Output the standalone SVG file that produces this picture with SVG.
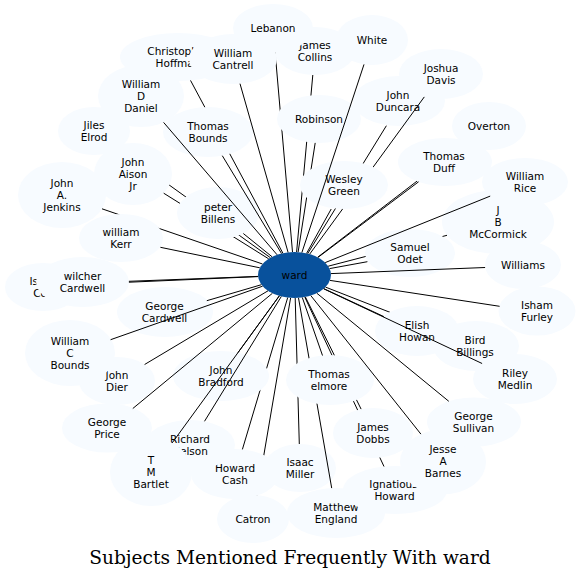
<svg xmlns="http://www.w3.org/2000/svg" width="581" height="580" viewBox="0 0 581 580">
<style>
.n ellipse{fill:#f7fbff}
#ward ellipse{fill:#08519c}
.n text{font-family:"DejaVu Sans","Liberation Sans",sans-serif;font-size:10.5px;text-anchor:middle;fill:#000}
.e line{stroke:#000;stroke-width:1}
.t{font-family:"DejaVu Serif","Liberation Serif",serif;font-size:18.6px;text-anchor:middle;fill:#000}
</style>
<defs>
<mask id="mLEB" maskUnits="userSpaceOnUse" x="0" y="0" width="581" height="580"><rect width="581" height="580" fill="#fff"/><ellipse cx="233" cy="59" rx="44" ry="25"/><ellipse cx="315" cy="51" rx="40" ry="24"/><ellipse cx="319" cy="119" rx="42" ry="24"/></mask>
<mask id="mTBO" maskUnits="userSpaceOnUse" x="0" y="0" width="581" height="580"><rect width="581" height="580" fill="#fff"/><ellipse cx="208" cy="132" rx="45" ry="25"/></mask>
<mask id="mCOL" maskUnits="userSpaceOnUse" x="0" y="0" width="581" height="580"><rect width="581" height="580" fill="#fff"/><ellipse cx="319" cy="119" rx="42" ry="24"/><ellipse cx="344" cy="185" rx="44" ry="24"/></mask>
<mask id="mJIL" maskUnits="userSpaceOnUse" x="0" y="0" width="581" height="580"><rect width="581" height="580" fill="#fff"/><ellipse cx="133" cy="174" rx="39" ry="31"/><ellipse cx="218" cy="213" rx="41" ry="26"/></mask>
<mask id="mWES" maskUnits="userSpaceOnUse" x="0" y="0" width="581" height="580"><rect width="581" height="580" fill="#fff"/><ellipse cx="344" cy="185" rx="44" ry="24"/></mask>
<mask id="mDUF" maskUnits="userSpaceOnUse" x="0" y="0" width="581" height="580"><rect width="581" height="580" fill="#fff"/><ellipse cx="445" cy="162" rx="47" ry="24"/></mask>
<mask id="mBIL" maskUnits="userSpaceOnUse" x="0" y="0" width="581" height="580"><rect width="581" height="580" fill="#fff"/><ellipse cx="218" cy="213" rx="41" ry="26"/></mask>
<mask id="mKER" maskUnits="userSpaceOnUse" x="0" y="0" width="581" height="580"><rect width="581" height="580" fill="#fff"/><ellipse cx="121" cy="238" rx="42" ry="24"/></mask>
<mask id="mODE" maskUnits="userSpaceOnUse" x="0" y="0" width="581" height="580"><rect width="581" height="580" fill="#fff"/><ellipse cx="410" cy="253" rx="45" ry="24"/></mask>
<mask id="mWIL" maskUnits="userSpaceOnUse" x="0" y="0" width="581" height="580"><rect width="581" height="580" fill="#fff"/><ellipse cx="82.5" cy="282" rx="46.5" ry="25"/></mask>
<mask id="mELI" maskUnits="userSpaceOnUse" x="0" y="0" width="581" height="580"><rect width="581" height="580" fill="#fff"/><ellipse cx="417" cy="331" rx="42" ry="25"/></mask>
<mask id="mBRA" maskUnits="userSpaceOnUse" x="0" y="0" width="581" height="580"><rect width="581" height="580" fill="#fff"/><ellipse cx="221" cy="376" rx="48" ry="25"/></mask>
<mask id="mCAS" maskUnits="userSpaceOnUse" x="0" y="0" width="581" height="580"><rect width="581" height="580" fill="#fff"/><ellipse cx="235" cy="474" rx="44" ry="25"/></mask>
<mask id="mELM" maskUnits="userSpaceOnUse" x="0" y="0" width="581" height="580"><rect width="581" height="580" fill="#fff"/><ellipse cx="330" cy="380" rx="44" ry="25"/></mask>
<mask id="mIGN" maskUnits="userSpaceOnUse" x="0" y="0" width="581" height="580"><rect width="581" height="580" fill="#fff"/><ellipse cx="330" cy="380" rx="44" ry="25"/><ellipse cx="373" cy="433" rx="40" ry="25"/></mask>
</defs>
<rect width="581" height="580" fill="#fff"/>
<g id="nodes">
<g class="n" id="n-isaac-c"><ellipse cx="43" cy="287" rx="38" ry="24"/><text><tspan x="43" y="284.9">Isaac</tspan><tspan x="43" y="296.6">Cox</tspan></text></g>
<g class="n" id="n-wilcher-cardwell"><ellipse cx="82.5" cy="282" rx="46.5" ry="25"/><text><tspan x="82.5" y="279.9">wilcher</tspan><tspan x="82.5" y="291.6">Cardwell</tspan></text></g>
<g class="n" id="n-john-a-jenkins"><ellipse cx="62" cy="195" rx="44" ry="33"/><text><tspan x="62" y="187.1">John</tspan><tspan x="62" y="198.8">A.</tspan><tspan x="62" y="210.5">Jenkins</tspan></text></g>
<g class="n" id="n-william-kerr"><ellipse cx="121" cy="238" rx="42" ry="24"/><text><tspan x="121" y="235.9">william</tspan><tspan x="121" y="247.6">Kerr</tspan></text></g>
<g class="n" id="n-john-aison-jr"><ellipse cx="133" cy="174" rx="39" ry="31"/><text><tspan x="133" y="166.1">John</tspan><tspan x="133" y="177.8">Aison</tspan><tspan x="133" y="189.5">Jr</tspan></text></g>
<g class="n" id="n-jiles-elrod"><ellipse cx="94" cy="131" rx="36" ry="24"/><text><tspan x="94" y="128.9">Jiles</tspan><tspan x="94" y="140.6">Elrod</tspan></text></g>
<g class="n" id="n-william-d-daniel"><ellipse cx="141" cy="96" rx="43" ry="31"/><text><tspan x="141" y="88.1">William</tspan><tspan x="141" y="99.8">D</tspan><tspan x="141" y="111.5">Daniel</tspan></text></g>
<g class="n" id="n-christopher-hoffman"><ellipse cx="178" cy="57" rx="58" ry="24"/><text><tspan x="178" y="54.9">Christopher</tspan><tspan x="178" y="66.6">Hoffman</tspan></text></g>
<g class="n" id="n-william-cantrell"><ellipse cx="233" cy="59" rx="44" ry="25"/><text><tspan x="233" y="56.9">William</tspan><tspan x="233" y="68.6">Cantrell</tspan></text></g>
<g class="n" id="n-james-collins"><ellipse cx="315" cy="51" rx="40" ry="24"/><text><tspan x="315" y="48.9">James</tspan><tspan x="315" y="60.6">Collins</tspan></text></g>
<g class="n" id="n-lebanon"><ellipse cx="273" cy="28" rx="40" ry="24"/><text x="273" y="31.8">Lebanon</text></g>
<g class="n" id="n-white"><ellipse cx="372" cy="40" rx="36" ry="25"/><text x="372" y="43.8">White</text></g>
<g class="n" id="n-robinson"><ellipse cx="319" cy="119" rx="42" ry="24"/><text x="319" y="122.8">Robinson</text></g>
<g class="n" id="n-thomas-bounds"><ellipse cx="208" cy="132" rx="45" ry="25"/><text><tspan x="208" y="129.9">Thomas</tspan><tspan x="208" y="141.6">Bounds</tspan></text></g>
<g class="n" id="n-peter-billens"><ellipse cx="218" cy="213" rx="41" ry="26"/><text><tspan x="218" y="210.9">peter</tspan><tspan x="218" y="222.6">Billens</tspan></text></g>
<g class="n" id="n-wesley-green"><ellipse cx="344" cy="185" rx="44" ry="24"/><text><tspan x="344" y="182.9">Wesley</tspan><tspan x="344" y="194.6">Green</tspan></text></g>
<g class="n" id="n-john-duncara"><ellipse cx="399" cy="101" rx="46" ry="25"/><text><tspan x="398" y="98.9">John</tspan><tspan x="398" y="110.6">Duncara</tspan></text></g>
<g class="n" id="n-joshua-davis"><ellipse cx="441" cy="74" rx="42" ry="25"/><text><tspan x="441" y="71.9">Joshua</tspan><tspan x="441" y="83.6">Davis</tspan></text></g>
<g class="n" id="n-overton"><ellipse cx="489" cy="126" rx="37" ry="24"/><text x="489" y="129.8">Overton</text></g>
<g class="n" id="n-thomas-duff"><ellipse cx="445" cy="162" rx="47" ry="24"/><text><tspan x="444" y="159.9">Thomas</tspan><tspan x="444" y="171.6">Duff</tspan></text></g>
<g class="n" id="n-william-rice"><ellipse cx="525" cy="182" rx="43" ry="24"/><text><tspan x="525" y="179.9">William</tspan><tspan x="525" y="191.6">Rice</tspan></text></g>
<g class="n" id="n-j-b-mccormick"><ellipse cx="498" cy="222" rx="56" ry="32"/><text><tspan x="498" y="214.1">J</tspan><tspan x="498" y="225.8">B</tspan><tspan x="498" y="237.5">McCormick</tspan></text></g>
<g class="n" id="n-samuel-odet"><ellipse cx="410" cy="253" rx="45" ry="24"/><text><tspan x="410" y="250.9">Samuel</tspan><tspan x="410" y="262.6">Odet</tspan></text></g>
<g class="n" id="n-williams"><ellipse cx="523" cy="265" rx="38" ry="24"/><text x="523" y="268.8">Williams</text></g>
<g class="n" id="n-isham-furley"><ellipse cx="537" cy="311" rx="38.5" ry="24.5"/><text><tspan x="537" y="308.9">Isham</tspan><tspan x="537" y="320.6">Furley</tspan></text></g>
<g class="n" id="n-elish-howan"><ellipse cx="417" cy="331" rx="42" ry="25"/><text><tspan x="417" y="328.9">Elish</tspan><tspan x="417" y="340.6">Howan</tspan></text></g>
<g class="n" id="n-bird-billings"><ellipse cx="476" cy="346" rx="43" ry="25"/><text><tspan x="475" y="343.9">Bird</tspan><tspan x="475" y="355.6">Billings</tspan></text></g>
<g class="n" id="n-riley-medlin"><ellipse cx="515" cy="379" rx="42" ry="25"/><text><tspan x="515" y="376.9">Riley</tspan><tspan x="515" y="388.6">Medlin</tspan></text></g>
<g class="n" id="n-george-cardwell"><ellipse cx="165" cy="312" rx="48" ry="25"/><text><tspan x="164.5" y="309.9">George</tspan><tspan x="164.5" y="321.6">Cardwell</tspan></text></g>
<g class="n" id="n-john-dier"><ellipse cx="117" cy="381" rx="38" ry="24"/><text><tspan x="117" y="378.9">John</tspan><tspan x="117" y="390.6">Dier</tspan></text></g>
<g class="n" id="n-william-c-bounds"><ellipse cx="70" cy="353" rx="45" ry="33"/><text><tspan x="70" y="345.1">William</tspan><tspan x="70" y="356.8">C</tspan><tspan x="70" y="368.5">Bounds</tspan></text></g>
<g class="n" id="n-george-price"><ellipse cx="107" cy="428" rx="45" ry="24.5"/><text><tspan x="107" y="425.9">George</tspan><tspan x="107" y="437.6">Price</tspan></text></g>
<g class="n" id="n-john-bradford"><ellipse cx="221" cy="376" rx="48" ry="25"/><text><tspan x="221" y="373.9">John</tspan><tspan x="221" y="385.6">Bradford</tspan></text></g>
<g class="n" id="n-howard-cash"><ellipse cx="235" cy="474" rx="44" ry="25"/><text><tspan x="235" y="471.9">Howard</tspan><tspan x="235" y="483.6">Cash</tspan></text></g>
<g class="n" id="n-richard-nelson"><ellipse cx="190" cy="445" rx="45" ry="25"/><text><tspan x="190" y="442.9">Richard</tspan><tspan x="190" y="454.6">Nelson</tspan></text></g>
<g class="n" id="n-t-m-bartlet"><ellipse cx="151" cy="472" rx="41" ry="34"/><text><tspan x="151" y="464.1">T</tspan><tspan x="151" y="475.8">M</tspan><tspan x="151" y="487.5">Bartlet</tspan></text></g>
<g class="n" id="n-isaac-miller"><ellipse cx="300" cy="468" rx="36" ry="24"/><text><tspan x="300" y="465.9">Isaac</tspan><tspan x="300" y="477.6">Miller</tspan></text></g>
<g class="n" id="n-catron"><ellipse cx="253" cy="519" rx="36" ry="24"/><text x="253" y="522.8">Catron</text></g>
<g class="n" id="n-matthew-england"><ellipse cx="336" cy="513" rx="49" ry="25"/><text><tspan x="336" y="510.9">Matthew</tspan><tspan x="336" y="522.6">England</tspan></text></g>
<g class="n" id="n-thomas-elmore"><ellipse cx="330" cy="380" rx="44" ry="25"/><text><tspan x="329" y="377.9">Thomas</tspan><tspan x="329" y="389.6">elmore</tspan></text></g>
<g class="n" id="n-james-dobbs"><ellipse cx="373" cy="433" rx="40" ry="25"/><text><tspan x="373" y="430.9">James</tspan><tspan x="373" y="442.6">Dobbs</tspan></text></g>
<g class="n" id="n-ignatious-howard"><ellipse cx="395" cy="490" rx="52" ry="24"/><text><tspan x="393.5" y="487.9">Ignatious</tspan><tspan x="394.5" y="499.6">Howard</tspan></text></g>
<g class="n" id="n-jesse-a-barnes"><ellipse cx="443" cy="462" rx="43" ry="32.5"/><text><tspan x="443" y="453.1">Jesse</tspan><tspan x="443" y="464.8">A</tspan><tspan x="443" y="476.5">Barnes</tspan></text></g>
<g class="n" id="n-george-sullivan"><ellipse cx="474" cy="422" rx="47" ry="24.5"/><text><tspan x="473.5" y="419.9">George</tspan><tspan x="473.5" y="431.6">Sullivan</tspan></text></g>
<g class="n" id="ward"><ellipse cx="294.5" cy="275" rx="36.5" ry="23"/><text x="294.5" y="278.8">ward</text></g>
</g>
<g class="e" id="connectors">
<line x1="292.5" y1="252" x2="275.1" y2="52" mask="url(#mLEB)"/>
<line x1="282.9" y1="253.2" x2="190.5" y2="80.4" mask="url(#mTBO)"/>
<line x1="288.1" y1="252.4" x2="240" y2="83.7"/>
<line x1="296.6" y1="252" x2="312.8" y2="75" mask="url(#mCOL)"/>
<line x1="301.9" y1="252.5" x2="364" y2="64.4"/>
<line x1="277.1" y1="254.8" x2="163.6" y2="122.4"/>
<line x1="270.4" y1="257.7" x2="118.5" y2="148.6" mask="url(#mJIL)"/>
<line x1="281.5" y1="253.5" x2="222.3" y2="155.7"/>
<line x1="298.1" y1="252.1" x2="315.2" y2="142.9" mask="url(#mWES)"/>
<line x1="309.7" y1="254.1" x2="424.3" y2="96.9" mask="url(#mWES)"/>
<line x1="307.7" y1="253.6" x2="386.4" y2="125.7" mask="url(#mWES)"/>
<line x1="317.7" y1="257.2" x2="465.1" y2="144.3" mask="url(#mDUF)"/>
<line x1="318" y1="257.4" x2="418.6" y2="181.8"/>
<line x1="325.2" y1="262.6" x2="490.2" y2="196.1"/>
<line x1="306.6" y1="253.3" x2="331.2" y2="209"/>
<line x1="268.6" y1="258.8" x2="163.7" y2="193.2" mask="url(#mBIL)"/>
<line x1="262.5" y1="264" x2="102" y2="208.8" mask="url(#mKER)"/>
<line x1="272.1" y1="256.8" x2="243.3" y2="233.5"/>
<line x1="328.2" y1="266.2" x2="447" y2="235.3" mask="url(#mODE)"/>
<line x1="259.8" y1="267.8" x2="160.4" y2="247.3"/>
<line x1="329.6" y1="268.6" x2="367.4" y2="261.7"/>
<line x1="330.9" y1="273.6" x2="485.1" y2="267.5"/>
<line x1="258.1" y1="276.6" x2="80.9" y2="284.3" mask="url(#mWIL)"/>
<line x1="258.1" y1="276.4" x2="128.9" y2="281.3"/>
<line x1="261.4" y1="284.7" x2="206.8" y2="300.7"/>
<line x1="262.6" y1="286.2" x2="110.6" y2="339.7"/>
<line x1="268" y1="290.8" x2="144.6" y2="364.5"/>
<line x1="279.3" y1="295.9" x2="238" y2="352.6"/>
<line x1="323.9" y1="288.7" x2="383.9" y2="316.6"/>
<line x1="325.5" y1="287.1" x2="440.3" y2="332" mask="url(#mELI)"/>
<line x1="323.7" y1="288.8" x2="482.1" y2="363.5"/>
<line x1="302.3" y1="297.5" x2="322.5" y2="355.5"/>
<line x1="272.4" y1="293.3" x2="132.8" y2="408.5"/>
<line x1="281.3" y1="296.5" x2="204.5" y2="421.3"/>
<line x1="279.3" y1="295.9" x2="172.2" y2="442.9"/>
<line x1="287.7" y1="297.6" x2="242.4" y2="449.4" mask="url(#mBRA)"/>
<line x1="295.2" y1="298" x2="299.3" y2="444" mask="url(#mELM)"/>
<line x1="290.6" y1="297.9" x2="257" y2="495.2" mask="url(#mCAS)"/>
<line x1="298.5" y1="297.9" x2="331.7" y2="488.1" mask="url(#mELM)"/>
<line x1="305.4" y1="297" x2="361.1" y2="409.1" mask="url(#mELM)"/>
<line x1="304.8" y1="297.1" x2="384" y2="466.5" mask="url(#mIGN)"/>
<line x1="310.8" y1="295.6" x2="420.9" y2="434.1"/>
<line x1="316.8" y1="293.2" x2="448.8" y2="401.3"/>
<line x1="330" y1="280.4" x2="499.6" y2="306.3"/>
</g>
<text class="t" x="290" y="564">Subjects Mentioned Frequently With ward</text>
</svg>
